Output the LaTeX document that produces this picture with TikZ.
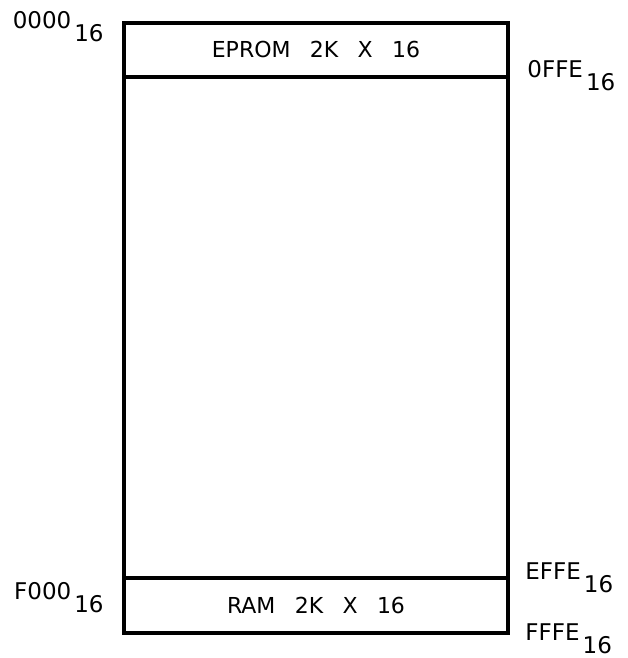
\documentclass[tikz,border=0pt]{standalone}
\usepackage{fontspec}
\setsansfont{DejaVu Sans}
\usetikzlibrary{positioning}
\newcommand{\hexaddr}[1]{#1\hspace{1.5pt}\raisebox{-6.5pt}{16}}
\newcommand{\wgap}{\hspace{0.88em}}

\begin{document}
\begin{tikzpicture}[
    x=0.5pt, y=0.5pt,
    every node/.style={font=\sffamily\fontsize{11}{13}\selectfont},
    memblock/.style={minimum width=192pt, inner sep=0pt, outer sep=0pt, text=black},
    frame/.style={draw=black, line width=1.9pt, line cap=rect},
    addr/.style={inner sep=0pt, text=black, font=\sffamily\fontsize{11.5}{13}\selectfont},
]
\useasboundingbox (0,0) rectangle (627,658);
\node[memblock, minimum height=27pt] (eprom) at (316,608) {EPROM\wgap 2K\wgap X\wgap 16};
\node[memblock, minimum height=27.5pt] (ram) at (316,52.5) {RAM\wgap 2K\wgap X\wgap 16};
\draw[frame] (eprom.north west) rectangle (ram.south east);
\draw[frame] (eprom.south west) -- (eprom.south east);
\draw[frame] (ram.north west) -- (ram.north east);
\node[addr, anchor=base east] (a_0000) at ([xshift=-10pt, yshift=-3pt]eprom.north west) {\hexaddr{0000}};
\node[addr, anchor=base west] (a_0ffe) at ([xshift=9.5pt, yshift=-0.5pt]eprom.south east) {\hexaddr{0FFE}};
\node[addr, anchor=base west] (a_effe) at ([xshift=8.5pt, yshift=-1pt]ram.north east) {\hexaddr{EFFE}};
\node[addr, anchor=base east] (a_f000) at ([xshift=-10pt, yshift=-11pt]ram.north west) {\hexaddr{F000}};
\node[addr, anchor=base west] (a_fffe) at ([xshift=8.5pt, yshift=-3.5pt]ram.south east) {\hexaddr{FFFE}};
\end{tikzpicture}
\end{document}
